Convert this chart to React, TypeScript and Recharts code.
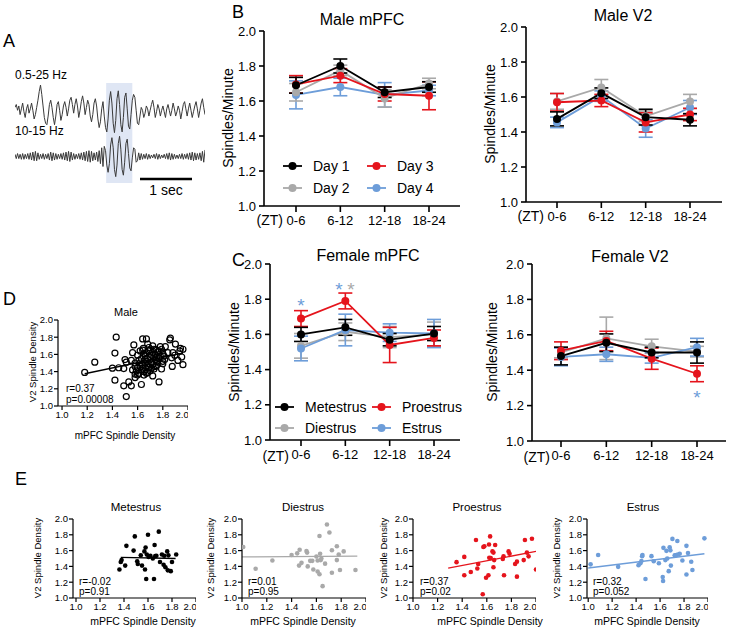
import React from "react";
import {
  LineChart,
  Line,
  XAxis,
  YAxis,
  ErrorBar,
  ScatterChart,
  Scatter,
  ReferenceLine,
  ReferenceArea,
} from "recharts";

const FONT = '"Liberation Sans", Arial, Helvetica, sans-serif';

const BLACK = "#000000";
const GRAY = "#a9a9a9";
const RED = "#e5141c";
const BLUE = "#6d9dd9";
const SHADE = "#dfe6f4";

// ---- panel A: example traces (offsets, up = positive) ----
const rawTrace = [
  6, 10, 2, 8, -4, 4, 12, 0, -8, 4,
  10, -2, 4, 12, 2, -10, -4, 6, 16, 28,
  37, 24, 8, -8, -16, -18, -6, 10, 16, 6,
  -8, -18, -6, 10, 14, 2, -12, -4, 8, 14,
  6, -6, 4, 16, 20, 10, -2, 10, 18, 8,
  -8, 2, 14, 22, 12, -4, 6, 16, 10, -6,
  -14, -4, 12, 18, 8, -10, -22, -14, 4, 14,
  -6, -22, -28, -10, 16, 28, 12, -16, -29, -12, 18, 29, 10, -18, -28, -8, 20, 26, 4, -20, -24, -4, 16,
  24, 20, 2, -16, -18, -6, 6, 2, -8, -2,
  8, 4, -6, 2, 10, 16, 6, -8, 0, 10,
  4, -6, 2, 8, 0, -8, 4, 10, 2, -6,
  2, 12, 4, -6, 0, 8, 2, -10, 0, 10,
  14, 4, -6, 4, 12, 2, -8, 0, 8, 14,
  4, -8, 2, 12, 18, 6, -4,
];
const spindleTrace = [
  3, -3, 4, -3, 3, -4, 4, -4, 3, -3,
  4, -4, 5, -5, 6, -6, 7, -6, 5, -4,
  3, -3, 4, -4, 3, -3, 4, -5, 6, -6,
  5, -5, 4, -4, 3, -3, 4, -4, 5, -5,
  6, -6, 7, -7, 6, -5, 4, -4, 3, -3,
  4, -4, 5, -5, 6, -6, 7, -7, 8, -8,
  7, -6, 5, -5, 6, -7, 8, -10, 12, -14,
  14, 8, -12, -22, -10, 16, 26, 12, -18, -28, -12, 18, 28, 10, -18, -26, -8, 18, 24, 4, -16, -20, -2,
  12, 10, -8, -6, 5, -5, 4, -4, 3, -3,
  4, -4, 3, -3, 2, -2, 3, -3, 4, -4,
  3, -3, 2, -2, 3, -3, 4, -4, 5, -5,
  4, -4, 3, -3, 2, -3, 3, -3, 4, -4,
  3, -3, 4, -4, 5, -5, 6, -6, 5, -5,
  4, -4, 5, -6, 7, -8, 9,
];
const spindleWindow = [71.5, 92];

// ---- panels B, C: spindles/minute by ZT bin (mean, sem) ----
const ztLabels = ["0-6", "6-12", "12-18", "18-24"];

const maleMpfcDay1 = [1.69, 1.8, 1.65, 1.68];
const maleMpfcDay1Err = [0.045, 0.04, 0.03, 0.03];
const maleMpfcDay2 = [1.65, 1.775, 1.615, 1.7];
const maleMpfcDay2Err = [0.05, 0.03, 0.05, 0.03];
const maleMpfcDay3 = [1.695, 1.745, 1.64, 1.63];
const maleMpfcDay3Err = [0.05, 0.04, 0.04, 0.08];
const maleMpfcDay4 = [1.635, 1.68, 1.635, 1.66];
const maleMpfcDay4Err = [0.08, 0.05, 0.07, 0.03];

const maleV2Day1 = [1.475, 1.622, 1.485, 1.47];
const maleV2Day1Err = [0.04, 0.03, 0.045, 0.035];
const maleV2Day2 = [1.575, 1.655, 1.49, 1.575];
const maleV2Day2Err = [0.045, 0.045, 0.03, 0.04];
const maleV2Day3 = [1.57, 1.58, 1.455, 1.5];
const maleV2Day3Err = [0.05, 0.035, 0.055, 0.035];
const maleV2Day4 = [1.455, 1.605, 1.42, 1.54];
const maleV2Day4Err = [0.03, 0.03, 0.05, 0.04];

const femMpfcMet = [1.6, 1.64, 1.57, 1.605];
const femMpfcMetErr = [0.04, 0.045, 0.035, 0.04];
const femMpfcDi = [1.535, 1.615, 1.585, 1.6];
const femMpfcDiErr = [0.07, 0.05, 0.06, 0.07];
const femMpfcPro = [1.69, 1.79, 1.54, 1.58];
const femMpfcProErr = [0.045, 0.045, 0.1, 0.045];
const femMpfcEst = [1.52, 1.625, 1.61, 1.605];
const femMpfcEstErr = [0.07, 0.09, 0.05, 0.08];

const femV2Met = [1.48, 1.555, 1.5, 1.5];
const femV2MetErr = [0.05, 0.05, 0.03, 0.06];
const femV2Di = [1.5, 1.58, 1.535, 1.505];
const femV2DiErr = [0.03, 0.12, 0.04, 0.03];
const femV2Pro = [1.51, 1.565, 1.465, 1.38];
const femV2ProErr = [0.05, 0.055, 0.06, 0.045];
const femV2Est = [1.475, 1.49, 1.47, 1.53];
const femV2EstErr = [0.05, 0.04, 0.03, 0.05];

const densityTicks = [1, 1.2, 1.4, 1.6, 1.8, 2];

// ---- panel D: male mPFC vs V2 density ----
const malePts: [number, number][] = [
  [1.18, 1.39], [1.26, 1.51], [1.43, 1.8], [1.42, 1.615], [1.42, 1.3], [1.4, 1.44],
  [1.45, 1.445], [1.49, 1.435], [1.5, 1.54], [1.51, 1.51], [1.49, 1.235], [1.51, 1.11],
  [1.55, 1.235], [1.53, 1.28], [1.55, 1.53], [1.56, 1.62], [1.57, 1.71], [1.58, 1.46],
  [1.58, 1.37], [1.58, 1.33], [1.59, 1.41], [1.6, 1.59], [1.61, 1.53], [1.62, 1.46],
  [1.63, 1.25], [1.64, 1.78], [1.645, 1.67], [1.65, 1.61], [1.66, 1.54], [1.66, 1.445],
  [1.67, 1.38], [1.67, 1.78], [1.68, 1.72], [1.685, 1.64], [1.69, 1.49], [1.7, 1.41],
  [1.71, 1.59], [1.72, 1.35], [1.72, 1.7], [1.73, 1.57], [1.74, 1.46], [1.745, 1.655],
  [1.75, 1.56], [1.76, 1.51], [1.77, 1.28], [1.78, 1.69], [1.79, 1.43], [1.8, 1.61],
  [1.8, 1.49], [1.815, 1.54], [1.82, 1.69], [1.84, 1.62], [1.855, 1.77], [1.86, 1.79],
  [1.87, 1.56], [1.875, 1.46], [1.88, 1.62], [1.895, 1.59], [1.9, 1.72], [1.92, 1.53],
  [1.935, 1.64], [1.94, 1.67], [1.95, 1.57], [1.96, 1.48], [1.96, 1.66],
  [1.62, 1.5], [1.63, 1.55], [1.64, 1.48], [1.65, 1.4], [1.66, 1.58], [1.67, 1.62],
  [1.68, 1.55], [1.69, 1.45], [1.7, 1.65], [1.71, 1.5], [1.72, 1.62], [1.73, 1.43],
  [1.74, 1.6], [1.75, 1.47], [1.76, 1.63], [1.77, 1.55], [1.78, 1.58], [1.79, 1.66],
  [1.8, 1.52], [1.81, 1.58], [1.63, 1.42], [1.65, 1.36], [1.67, 1.52], [1.69, 1.68],
  [1.71, 1.44], [1.73, 1.66], [1.75, 1.52], [1.77, 1.64], [1.6, 1.45], [1.61, 1.38],
  [1.64, 1.65], [1.68, 1.47], [1.7, 1.57], [1.72, 1.48], [1.74, 1.54], [1.66, 1.5],
  [1.62, 1.64], [1.58, 1.5], [1.56, 1.42], [1.68, 1.39], [1.6, 1.36], [1.64, 1.44],
];
const maleFit: [number, number][] = [[1.18, 1.375], [1.96, 1.615]];

// ---- panel E: by estrous stage ----
const metPts: [number, number][] = [
  [1.362, 1.36], [1.373, 1.455], [1.38, 1.48], [1.41, 1.41], [1.42, 1.66], [1.49, 1.78],
  [1.48, 1.6], [1.51, 1.465], [1.515, 1.43], [1.54, 1.54], [1.55, 1.41], [1.57, 1.59],
  [1.575, 1.36], [1.585, 1.24], [1.58, 1.64], [1.59, 1.55], [1.6, 1.8], [1.605, 1.52],
  [1.62, 1.535], [1.64, 1.5], [1.65, 1.24], [1.655, 1.67], [1.66, 1.53], [1.67, 1.535],
  [1.69, 1.84], [1.7, 1.455], [1.716, 1.55], [1.73, 1.42], [1.735, 1.535], [1.745, 1.39],
  [1.76, 1.59], [1.765, 1.35], [1.77, 1.54], [1.79, 1.34], [1.8, 1.455], [1.835, 1.55],
];
const metFit: [number, number][] = [[1.373, 1.513], [1.83, 1.5]];

const diPts: [number, number][] = [
  [1.01, 1.645], [1.11, 1.37], [1.245, 1.475], [1.4, 1.545], [1.445, 1.565], [1.46, 1.41],
  [1.465, 1.61], [1.48, 1.445], [1.52, 1.595], [1.525, 1.575], [1.53, 1.4], [1.55, 1.47],
  [1.567, 1.47], [1.575, 1.36], [1.6, 1.525], [1.61, 1.335], [1.61, 1.475], [1.625, 1.3],
  [1.625, 1.785], [1.63, 1.56], [1.635, 1.48], [1.64, 1.5], [1.65, 1.15], [1.67, 1.435],
  [1.685, 1.93], [1.705, 1.83], [1.725, 1.605], [1.725, 1.32], [1.765, 1.48], [1.765, 1.655],
  [1.78, 1.55], [1.79, 1.355], [1.82, 1.59], [1.915, 1.355],
];
const diFit: [number, number][] = [[1.0, 1.52], [1.93, 1.53]];

const proPts: [number, number][] = [
  [1.354, 1.454], [1.417, 1.52], [1.417, 1.288], [1.47, 1.33], [1.512, 1.735], [1.523, 1.374],
  [1.53, 1.43], [1.567, 1.048], [1.572, 1.645], [1.58, 1.655], [1.594, 1.256], [1.613, 1.288],
  [1.618, 1.677], [1.62, 1.51], [1.627, 1.78], [1.632, 1.505], [1.646, 1.59], [1.654, 1.575],
  [1.654, 1.39], [1.66, 1.48], [1.668, 1.67], [1.73, 1.495], [1.736, 1.527], [1.74, 1.288],
  [1.777, 1.59], [1.785, 1.56], [1.83, 1.43], [1.845, 1.46], [1.845, 1.27], [1.9, 1.48],
  [1.91, 1.735], [1.926, 1.575], [1.94, 1.527], [1.967, 1.75], [2.0, 1.36],
];
const proFit: [number, number][] = [[1.286, 1.377], [2.0, 1.59]];

const estPts: [number, number][] = [
  [1.02, 1.426], [1.083, 1.545], [1.25, 1.394], [1.42, 1.416], [1.436, 1.44], [1.444, 1.468],
  [1.45, 1.53], [1.453, 1.545], [1.478, 1.24], [1.528, 1.53], [1.547, 1.465], [1.59, 1.44],
  [1.622, 1.265], [1.625, 1.216], [1.628, 1.635], [1.644, 1.48], [1.653, 1.597], [1.66, 1.5],
  [1.672, 1.34], [1.68, 1.642], [1.686, 1.603], [1.69, 1.41], [1.703, 1.748], [1.722, 1.54],
  [1.736, 1.545], [1.744, 1.722], [1.75, 1.55], [1.764, 1.56], [1.786, 1.474], [1.82, 1.297],
  [1.82, 1.66], [1.833, 1.57], [1.86, 1.458], [1.87, 1.355], [1.97, 1.755],
];
const estFit: [number, number][] = [[1.0, 1.38], [1.97, 1.56]];

type Series = { key: string; color: string; values: number[]; errors: number[] };
type Box = { left: number; top: number; width: number; height: number; mt: number };

function TimeChart({ box, padding, series }: { box: Box; padding: { left: number; right: number }; series: Series[] }) {
  const rows = ztLabels.map((z, i) => {
    const r: any = { zt: z };
    series.forEach((s) => {
      r[s.key] = s.values[i];
      r[s.key + "E"] = s.errors[i];
    });
    return r;
  });
  return (
    <div style={{ position: "absolute", left: box.left, top: box.top }}>
      <LineChart width={box.width} height={box.height} data={rows} margin={{ top: box.mt, right: 0, bottom: 0, left: 0 }}>
        <XAxis
          dataKey="zt"
          height={30}
          padding={padding}
          interval={0}
          tickSize={6}
          tickMargin={4}
          axisLine={{ stroke: BLACK, strokeWidth: 1.6 }}
          tickLine={{ stroke: BLACK, strokeWidth: 1.6 }}
          tick={{ fill: BLACK, fontSize: 13 }}
        />
        <YAxis
          width={40}
          domain={[1, 2]}
          ticks={densityTicks}
          tickFormatter={(v: number) => v.toFixed(1)}
          tickSize={5}
          tickMargin={3}
          axisLine={{ stroke: BLACK, strokeWidth: 1.6 }}
          tickLine={{ stroke: BLACK, strokeWidth: 1.6 }}
          tick={{ fill: BLACK, fontSize: 13 }}
        />
        {series.map((s) => (
          <Line
            key={s.key}
            dataKey={s.key}
            type="linear"
            stroke={s.color}
            strokeWidth={1.8}
            dot={{ r: 4, fill: s.color, stroke: s.color, strokeWidth: 0 }}
            isAnimationActive={false}
          >
            <ErrorBar dataKey={s.key + "E"} width={7} stroke={s.color} strokeWidth={1.6} />
          </Line>
        ))}
      </LineChart>
    </div>
  );
}

function CorrChart({
  box,
  xDomain,
  pts,
  fit,
  color,
  open,
}: {
  box: Box;
  xDomain: [number, number];
  pts: [number, number][];
  fit: [number, number][];
  color: string;
  open?: boolean;
}) {
  const data = pts.map(([x, y]) => ({ x, y }));
  const axisStyle = { stroke: BLACK, strokeWidth: 1.2 };
  return (
    <div style={{ position: "absolute", left: box.left, top: box.top }}>
      <ScatterChart width={box.width} height={box.height} margin={{ top: box.mt, right: 0, bottom: 0, left: 0 }}>
        <XAxis
          type="number"
          dataKey="x"
          domain={xDomain}
          allowDataOverflow
          ticks={densityTicks}
          tickFormatter={(v: number) => v.toFixed(1)}
          height={16}
          tickSize={4}
          tickMargin={1}
          axisLine={axisStyle}
          tickLine={axisStyle}
          tick={{ fill: BLACK, fontSize: 9.5 }}
        />
        <YAxis
          type="number"
          dataKey="y"
          domain={[1, 2]}
          allowDataOverflow
          ticks={densityTicks}
          tickFormatter={(v: number) => v.toFixed(1)}
          width={22}
          tickSize={4}
          tickMargin={1}
          axisLine={axisStyle}
          tickLine={axisStyle}
          tick={{ fill: BLACK, fontSize: 9.5 }}
        />
        <ReferenceLine
          segment={[
            { x: fit[0][0], y: fit[0][1] },
            { x: fit[1][0], y: fit[1][1] },
          ]}
          stroke={color}
          strokeWidth={1.3}
          ifOverflow="visible"
        />
        <Scatter
          data={data}
          isAnimationActive={false}
          shape={(p: any) => (
            <circle
              cx={p.cx}
              cy={p.cy}
              r={open ? 3 : 2.3}
              fill={open ? "none" : color}
              stroke={color}
              strokeWidth={open ? 1.2 : 0}
            />
          )}
        />
      </ScatterChart>
    </div>
  );
}

function TraceChart() {
  const rows = rawTrace.map((v, i) => ({ i, a: v, b: spindleTrace[i] - 62 }));
  return (
    <div style={{ position: "absolute", left: 15, top: 80 }}>
      <LineChart width={190} height={106} data={rows} margin={{ top: 0, right: 0, bottom: 0, left: 0 }}>
        <XAxis type="number" dataKey="i" domain={[0, rawTrace.length - 1]} hide />
        <YAxis domain={[-103, 44]} hide />
        <ReferenceArea x1={spindleWindow[0]} x2={spindleWindow[1]} y1={-99} y2={40} fill={SHADE} fillOpacity={1} stroke="none" ifOverflow="visible" />
        <Line dataKey="a" stroke="#3a3a3a" strokeWidth={1} dot={false} isAnimationActive={false} />
        <Line dataKey="b" stroke="#3a3a3a" strokeWidth={1} dot={false} isAnimationActive={false} />
      </LineChart>
    </div>
  );
}

function YLabel({ x, y, size, children }: { x: number; y: number; size: number; children: string }) {
  return (
    <text transform={`translate(${x},${y}) rotate(-90)`} textAnchor="middle" dominantBaseline="central" fontSize={size}>
      {children}
    </text>
  );
}

function LegendItem({ x, y, color, label }: { x: number; y: number; color: string; label: string }) {
  return (
    <g>
      <line x1={x} y1={y} x2={x + 19} y2={y} stroke={color} strokeWidth={1.8} />
      <circle cx={x + 9.5} cy={y} r={4} fill={color} />
      <text x={x + 30} y={y} dominantBaseline="central" fontSize={14}>
        {label}
      </text>
    </g>
  );
}

export default function App() {
  const dayColors = [BLACK, GRAY, RED, BLUE];
  return (
    <div
      style={{
        position: "fixed",
        left: 0,
        top: 0,
        width: 729,
        height: 630,
        background: "#fff",
        fontFamily: FONT,
        overflow: "hidden",
      }}
    >
      <TraceChart />

      <TimeChart
        box={{ left: 224, top: 0, width: 236, height: 236, mt: 31 }}
        padding={{ left: 32, right: 31 }}
        series={[
          { key: "d4", color: dayColors[3], values: maleMpfcDay4, errors: maleMpfcDay4Err },
          { key: "d2", color: dayColors[1], values: maleMpfcDay2, errors: maleMpfcDay2Err },
          { key: "d3", color: dayColors[2], values: maleMpfcDay3, errors: maleMpfcDay3Err },
          { key: "d1", color: dayColors[0], values: maleMpfcDay1, errors: maleMpfcDay1Err },
        ]}
      />
      <TimeChart
        box={{ left: 486, top: 0, width: 236, height: 232, mt: 27 }}
        padding={{ left: 31, right: 32 }}
        series={[
          { key: "d4", color: dayColors[3], values: maleV2Day4, errors: maleV2Day4Err },
          { key: "d2", color: dayColors[1], values: maleV2Day2, errors: maleV2Day2Err },
          { key: "d3", color: dayColors[2], values: maleV2Day3, errors: maleV2Day3Err },
          { key: "d1", color: dayColors[0], values: maleV2Day1, errors: maleV2Day1Err },
        ]}
      />
      <TimeChart
        box={{ left: 230, top: 240, width: 230, height: 230, mt: 24 }}
        padding={{ left: 31, right: 26 }}
        series={[
          { key: "di", color: GRAY, values: femMpfcDi, errors: femMpfcDiErr },
          { key: "es", color: BLUE, values: femMpfcEst, errors: femMpfcEstErr },
          { key: "pr", color: RED, values: femMpfcPro, errors: femMpfcProErr },
          { key: "me", color: BLACK, values: femMpfcMet, errors: femMpfcMetErr },
        ]}
      />
      <TimeChart
        box={{ left: 492, top: 240, width: 234, height: 231, mt: 24 }}
        padding={{ left: 29, right: 29 }}
        series={[
          { key: "di", color: GRAY, values: femV2Di, errors: femV2DiErr },
          { key: "es", color: BLUE, values: femV2Est, errors: femV2EstErr },
          { key: "pr", color: RED, values: femV2Pro, errors: femV2ProErr },
          { key: "me", color: BLACK, values: femV2Met, errors: femV2MetErr },
        ]}
      />

      <CorrChart box={{ left: 36, top: 302, width: 152, height: 120, mt: 18 }} xDomain={[0.968, 2]} pts={malePts} fit={maleFit} color={BLACK} open />
      <CorrChart box={{ left: 51, top: 504, width: 145, height: 110, mt: 15 }} xDomain={[0.975, 2]} pts={metPts} fit={metFit} color={BLACK} />
      <CorrChart box={{ left: 220, top: 504, width: 146, height: 110, mt: 15 }} xDomain={[1, 2]} pts={diPts} fit={diFit} color={GRAY} />
      <CorrChart box={{ left: 391, top: 504, width: 145, height: 110, mt: 15 }} xDomain={[1, 2]} pts={proPts} fit={proFit} color={RED} />
      <CorrChart box={{ left: 565, top: 504, width: 143, height: 110, mt: 15 }} xDomain={[0.99, 2]} pts={estPts} fit={estFit} color={BLUE} />

      <svg
        width={729}
        height={630}
        style={{ position: "absolute", left: 0, top: 0, pointerEvents: "none" }}
        fontFamily={FONT}
        fill={BLACK}
      >
        {/* panel letters */}
        <text x={3} y={47} fontSize={18}>A</text>
        <text x={232} y={18} fontSize={18}>B</text>
        <text x={232} y={266} fontSize={18}>C</text>
        <text x={3} y={305} fontSize={18}>D</text>
        <text x={15} y={485} fontSize={18}>E</text>

        {/* panel A */}
        <text x={15} y={79} fontSize={12}>0.5-25 Hz</text>
        <text x={15} y={135} fontSize={12}>10-15 Hz</text>
        <line x1={140} y1={179} x2={192} y2={179} stroke={BLACK} strokeWidth={2.5} />
        <text x={166} y={195} fontSize={14} textAnchor="middle">1 sec</text>

        {/* panel B */}
        <text x={362} y={25} fontSize={16} textAnchor="middle">Male mPFC</text>
        <text x={623} y={21} fontSize={16} textAnchor="middle">Male V2</text>
        <YLabel x={228} y={118} size={14}>Spindles/Minute</YLabel>
        <YLabel x={490} y={114} size={14}>Spindles/Minute</YLabel>
        <text x={283} y={225} fontSize={14} textAnchor="end">(ZT)</text>
        <text x={544} y={221} fontSize={14} textAnchor="end">(ZT)</text>
        <LegendItem x={283} y={166} color={BLACK} label="Day 1" />
        <LegendItem x={283} y={188} color={GRAY} label="Day 2" />
        <LegendItem x={367} y={166} color={RED} label="Day 3" />
        <LegendItem x={367} y={188} color={BLUE} label="Day 4" />

        {/* panel C */}
        <text x={368} y={261} fontSize={16} textAnchor="middle">Female mPFC</text>
        <text x={630} y={262} fontSize={16} textAnchor="middle">Female V2</text>
        <YLabel x={234} y={352} size={14}>Spindles/Minute</YLabel>
        <YLabel x={492} y={352} size={14}>Spindles/Minute</YLabel>
        <text x={289} y={461} fontSize={14} textAnchor="end">(ZT)</text>
        <text x={550} y={462} fontSize={14} textAnchor="end">(ZT)</text>
        <LegendItem x={275} y={407} color={BLACK} label="Metestrus" />
        <LegendItem x={275} y={428} color={GRAY} label="Diestrus" />
        <LegendItem x={372} y={407} color={RED} label="Proestrus" />
        <LegendItem x={372} y={428} color={BLUE} label="Estrus" />
        <text x={301} y={312} fontSize={19} textAnchor="middle" fill={BLUE}>*</text>
        <text x={339} y={296} fontSize={19} textAnchor="middle" fill={BLUE}>*</text>
        <text x={351} y={296} fontSize={19} textAnchor="middle" fill={GRAY}>*</text>
        <text x={697} y={404} fontSize={19} textAnchor="middle" fill={BLUE}>*</text>

        {/* panel D */}
        <text x={126} y={316} fontSize={11} textAnchor="middle">Male</text>
        <YLabel x={32} y={362} size={9.5}>V2 Spindle Density</YLabel>
        <text x={125} y={439} fontSize={10} textAnchor="middle">mPFC Spindle Density</text>
        <text x={66} y={392} fontSize={10}>r=0.37</text>
        <text x={66} y={403} fontSize={10}>p=0.00008</text>

        {/* panel E */}
        <text x={136} y={511} fontSize={11.5} textAnchor="middle">Metestrus</text>
        <text x={303} y={511} fontSize={11.5} textAnchor="middle">Diestrus</text>
        <text x={477} y={511} fontSize={11.5} textAnchor="middle">Proestrus</text>
        <text x={643} y={511} fontSize={11.5} textAnchor="middle">Estrus</text>
        <YLabel x={37} y={558} size={9.5}>V2 Spindle Density</YLabel>
        <YLabel x={210} y={558} size={9.5}>V2 Spindle Density</YLabel>
        <YLabel x={383} y={558} size={9.5}>V2 Spindle Density</YLabel>
        <YLabel x={556} y={558} size={9.5}>V2 Spindle Density</YLabel>
        <text x={143} y={625} fontSize={10.5} textAnchor="middle">mPFC Spindle Density</text>
        <text x={303} y={625} fontSize={10.5} textAnchor="middle">mPFC Spindle Density</text>
        <text x={490} y={625} fontSize={10.5} textAnchor="middle">mPFC Spindle Density</text>
        <text x={647} y={625} fontSize={10.5} textAnchor="middle">mPFC Spindle Density</text>
        <text x={79} y={585} fontSize={10}>r=-0.02</text>
        <text x={79} y={595} fontSize={10}>p=0.91</text>
        <text x={248} y={585} fontSize={10}>r=0.01</text>
        <text x={248} y={595} fontSize={10}>p=0.95</text>
        <text x={420} y={585} fontSize={10}>r=0.37</text>
        <text x={420} y={595} fontSize={10}>p=0.02</text>
        <text x={593} y={585} fontSize={10}>r=0.32</text>
        <text x={593} y={595} fontSize={10}>p=0.052</text>
      </svg>
    </div>
  );
}
